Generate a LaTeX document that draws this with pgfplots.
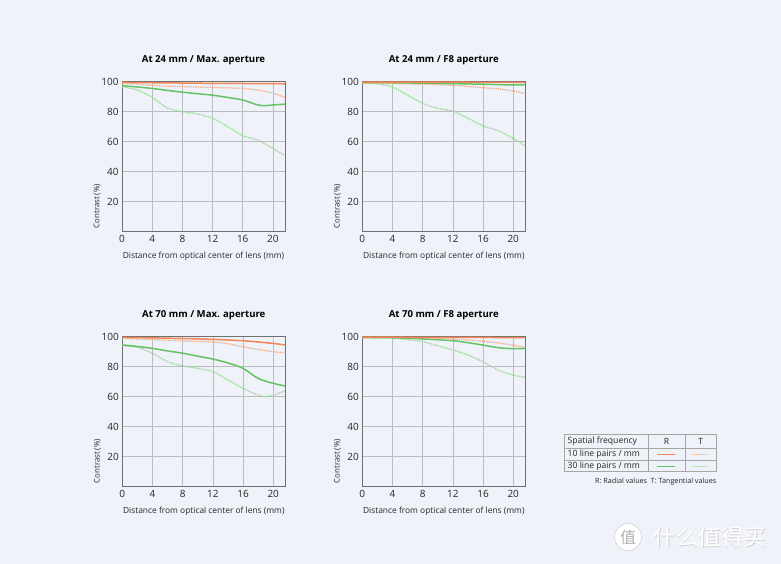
\documentclass[border=0pt]{standalone}
\usepackage{pgfplots}
\pgfplotsset{compat=1.18}
\usepackage{fontspec}
\setmainfont{Open Sans}
\newfontfamily\cjk{Noto Sans CJK SC}
\definecolor{bg}{RGB}{239,242,248}
\definecolor{orR}{RGB}{240,135,85}
\definecolor{orT}{RGB}{243,170,135}
\definecolor{grR}{RGB}{100,195,100}
\definecolor{grT}{RGB}{150,215,150}
\definecolor{gridc}{RGB}{185,188,192}
\definecolor{axc}{RGB}{110,112,116}
\pgfplotsset{
  mtf/.style={
    scale only axis, width=163pt, height=150pt, anchor=south west,
    xmin=0, xmax=21.6, ymin=0, ymax=100,
    xtick={0,4,...,20}, ytick={20,40,...,100},
    /pgf/number format/assume math mode=true,
    grid=major, grid style={gridc, line width=0.7pt},
    axis line style={axc, line width=0.9pt},
    major tick length=0pt,
    tick label style={font=\fontsize{10}{10}\selectfont, text=black!85},
    xlabel={Distance from optical center of lens (mm)},
    ylabel={Contrast (\%)},
    label style={font=\fontsize{8.4}{9}\selectfont, text=black!85},
    title style={font=\bfseries\fontsize{9.6}{10}\selectfont, at={(0.5,1)}, anchor=center, yshift=16pt},
    xlabel style={at={(0.5,0)}, anchor=center, yshift=-24.5pt},
    ylabel style={at={(-0.153,0)}, anchor=west, font=\fontsize{7.8}{8}\selectfont},
    every axis plot/.append style={smooth, no marks},
  },
  R10/.style={orR, line width=1.5pt},
  T10/.style={orT, line width=1.3pt, densely dotted},
  R30/.style={grR, line width=1.5pt},
  T30/.style={grT, line width=1.3pt, densely dotted},
}
\begin{document}
\begin{tikzpicture}
\fill[bg] (0,0) rectangle (781pt,564pt);
\useasboundingbox (0,0) rectangle (781pt,564pt);

% Top left
\begin{axis}[mtf, at={(122pt,332.3pt)}, title={At 24 mm / Max. aperture}]
\addplot[T30] coordinates {(0,96.7)(2,94.5)(4,89.6)(6,82.5)(8,80)(10,78.5)(12,75.6)(14,70)(16,64)(18,61)(20,55.6)(21.6,50.5)};
\addplot[R30] coordinates {(0,97.3)(2,96.5)(4,95.5)(6,94.2)(8,93)(10,92)(12,91)(14,89.5)(16,87.8)(18,84.5)(19,84)(20,84.5)(21.6,85)};
\addplot[T10] coordinates {(0,99)(2,98.5)(4,97.5)(6,97)(8,96.7)(10,96.4)(12,96.2)(14,95.9)(16,95.5)(18,94.5)(20,92.3)(21.6,89.5)};
\addplot[R10] coordinates {(0,99.5)(4,99.3)(8,99.1)(12,98.9)(16,98.8)(20,98.7)(21.6,98.6)};
\end{axis}

% Top right
\begin{axis}[mtf, at={(362.3pt,332.3pt)}, title={At 24 mm / F8 aperture}]
\addplot[T30] coordinates {(0,99)(2,98.5)(4,96.5)(6,91)(8,85.6)(10,82.2)(12,80.5)(14,75.6)(16,70.5)(18,67.3)(20,62.2)(21.6,57)};
\addplot[T10] coordinates {(0,99)(4,98.8)(8,98.3)(12,97.6)(16,96)(18,95.2)(20,93.8)(21.6,92)};
\addplot[R30] coordinates {(0,99.3)(4,99.3)(8,99)(12,98.7)(16,98.3)(20,97.8)(21.6,98)};
\addplot[R10] coordinates {(0,99.7)(8,99.7)(16,99.6)(21.6,99.5)};
\end{axis}

% Bottom left
\begin{axis}[mtf, at={(122.3pt,77.3pt)}, title={At 70 mm / Max. aperture}]
\addplot[T30] coordinates {(0,94)(2,92.9)(4,88.9)(6,83.3)(8,80.5)(10,78.9)(12,76.7)(14,71.1)(16,65.6)(18,61.1)(19,60)(20,61)(21.6,64)};
\addplot[R30] coordinates {(0,94.5)(2,93.5)(4,92.2)(6,90.5)(8,89)(10,87)(12,85.1)(14,82.5)(16,78.9)(18,72.2)(20,68.9)(21.6,67.1)};
\addplot[T10] coordinates {(0,99)(4,98)(8,97.2)(12,96.5)(14,95.3)(16,93.3)(18,91.5)(20,90)(21.6,89.3)};
\addplot[R10] coordinates {(0,99.5)(4,99.2)(8,98.8)(12,98.2)(16,97.3)(18,96.5)(20,95.5)(21.6,94.5)};
\end{axis}

% Bottom right
\begin{axis}[mtf, at={(362.3pt,77.3pt)}, title={At 70 mm / F8 aperture}]
\addplot[T30] coordinates {(0,99.2)(4,99)(6,98)(8,96.7)(10,94)(12,91.1)(14,87.8)(16,83.3)(18,77.8)(20,74.4)(21.6,72.9)};
\addplot[R30] coordinates {(0,99.5)(4,99.3)(8,98.5)(12,97.3)(14,96)(16,94.4)(18,92.7)(20,92)(21.6,92.2)};
\addplot[T10] coordinates {(0,99.5)(4,99.5)(8,99.3)(12,98.5)(16,97)(18,95.8)(20,94.3)(21.6,92.8)};
\addplot[R10] coordinates {(0,99.7)(8,99.6)(16,99.5)(21.6,99.3)};
\end{axis}

% Legend table
\begin{scope}[font=\fontsize{8.6}{9}\selectfont, text=black!85]
\draw[gray!70, line width=0.6pt] (564.3pt,92.3pt) rectangle (716.7pt,129.7pt);
\draw[gray!70, line width=0.6pt] (564.3pt,115.7pt) -- (716.7pt,115.7pt);
\draw[gray!70, line width=0.6pt] (564.3pt,103.3pt) -- (716.7pt,103.3pt);
\draw[gray!70, line width=0.6pt] (648.3pt,92.3pt) -- (648.3pt,129.7pt);
\draw[gray!70, line width=0.6pt] (685pt,92.3pt) -- (685pt,129.7pt);
\node[anchor=west, inner sep=0pt] at (567.5pt,122.7pt) {Spatial frequency};
\node[inner sep=0pt] at (666.6pt,122.7pt) {R};
\node[inner sep=0pt] at (700.8pt,122.7pt) {T};
\node[anchor=west, inner sep=0pt] at (567.5pt,109.5pt) {10 line pairs / mm};
\node[anchor=west, inner sep=0pt] at (567.5pt,97.8pt) {30 line pairs / mm};
\draw[orR, line width=1.3pt] (657pt,109.5pt) -- (675pt,109.5pt);
\draw[orT, line width=1.1pt, densely dotted] (692pt,109.5pt) -- (708pt,109.5pt);
\draw[grR, line width=1.3pt] (657pt,97.8pt) -- (675pt,97.8pt);
\draw[grT, line width=1.1pt, densely dotted] (692pt,97.8pt) -- (708pt,97.8pt);
\node[anchor=east, inner sep=0pt, font=\fontsize{7.2}{7.5}\selectfont] at (716.5pt,82.3pt) {R: Radial values\ \ T: Tangential values};
\end{scope}

% Watermark
\fill[white] (628pt,27pt) circle (13.5pt);
\draw[gray!35, line width=0.6pt] (628pt,27pt) circle (13.5pt);
\node[text=gray!60, font=\cjk\fontsize{16}{16}\selectfont] at (628pt,27pt) {值};
\node[anchor=west, text=gray!35, font=\cjk\fontsize{22.5}{22.5}\selectfont, xshift=0.6pt, yshift=-0.6pt] at (650pt,27pt) {什么值得买};
\node[anchor=west, text=white, font=\cjk\fontsize{22.5}{22.5}\selectfont] at (650pt,27pt) {什么值得买};
\end{tikzpicture}
\end{document}
